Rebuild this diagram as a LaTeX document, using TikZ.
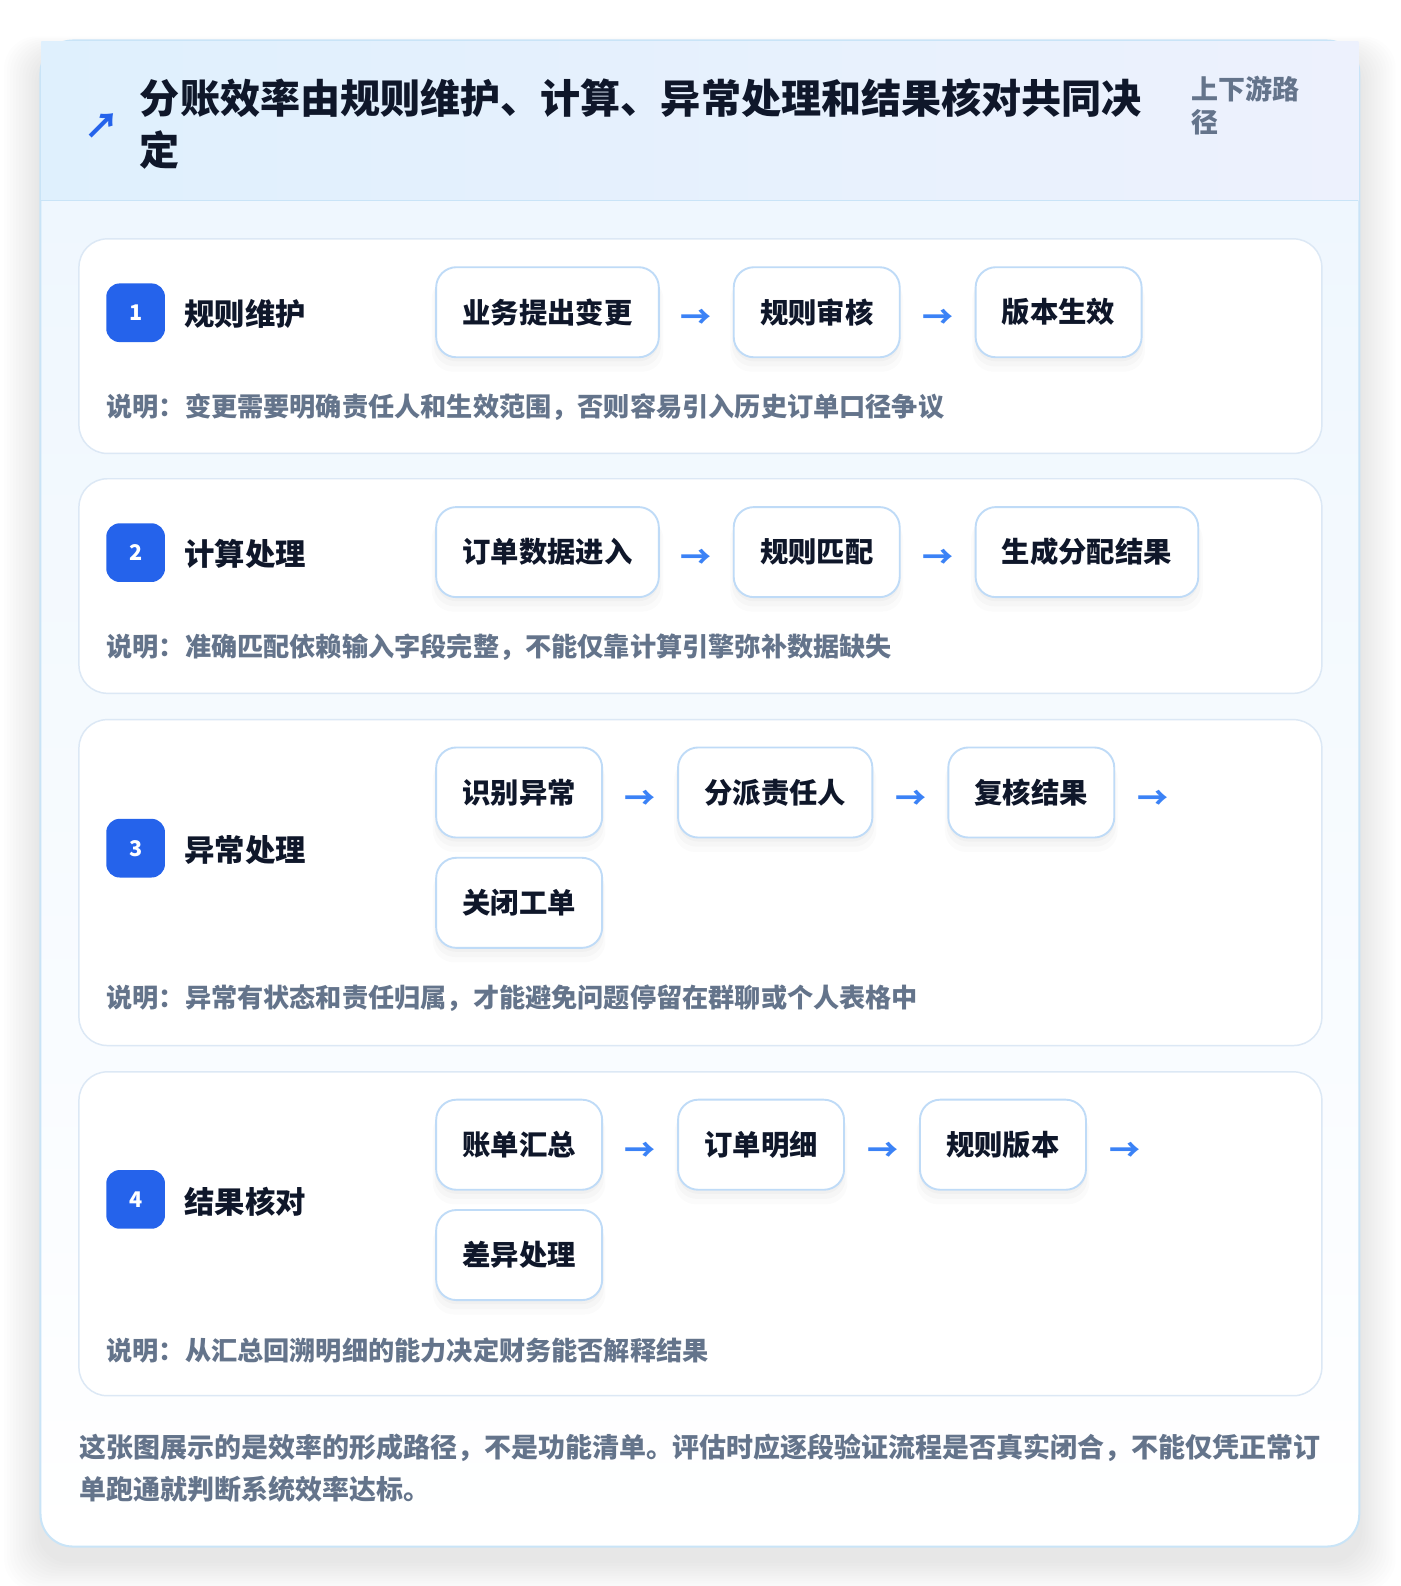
\documentclass[tikz,border=0pt]{standalone}
\usepackage{fontspec}
\setmainfont{Noto Sans CJK SC}
\usepackage{xcolor}
\usetikzlibrary{shadows}

\definecolor{ink}{HTML}{0F172A}
\definecolor{notegray}{HTML}{64748B}
\definecolor{badgeblue}{HTML}{2563EB}
\definecolor{arrowblue}{HTML}{3B82F6}
\definecolor{stepline}{HTML}{BFDBF7}
\definecolor{cardline}{HTML}{DCE8F5}
\definecolor{outerline}{HTML}{C9E4F7}
\definecolor{headA}{HTML}{DFF0FD}
\definecolor{headB}{HTML}{EDF1FD}
\definecolor{bodytop}{HTML}{EFF7FE}

\begin{document}
\begin{tikzpicture}[x=0.75pt,y=-0.75pt,
    stepbox/.style={draw=stepline, line width=1.4pt, fill=white, rounded corners=15pt,
        minimum height=66.75pt, inner xsep=19.5pt, anchor=west, text=ink,
        font=\fontsize{21}{25}\selectfont\bfseries,
        drop shadow={shadow xshift=0pt, shadow yshift=-9pt, shadow scale=1.04, opacity=0.015, fill=black},
        drop shadow={shadow xshift=0pt, shadow yshift=-6pt, shadow scale=1.02, opacity=0.02, fill=black},
        drop shadow={shadow xshift=0pt, shadow yshift=-3pt, opacity=0.025, fill=black}},
    card/.style={draw=cardline, line width=1.1pt, fill=white, rounded corners=21pt},
    badge/.style={fill=badgeblue, rounded corners=10pt, minimum size=43.5pt, inner sep=0pt,
        text=white, font=\fontsize{16}{16}\selectfont\bfseries},
    stage/.style={anchor=west, inner sep=0pt, text=ink, font=\fontsize{22.5}{27}\selectfont\bfseries},
    note/.style={anchor=west, inner sep=0pt, text=notegray, font=\fontsize{19.4}{24}\selectfont\bfseries},
    flow/.style={inner sep=0pt, text=arrowblue, font=\fontsize{23}{25}\selectfont\bfseries}
]
    \fill[white] (0,0) rectangle (1383.4,1567);

    % soft shadow of the outer panel
    \foreach \i in {1,...,12}
        \fill[black, opacity=0.009, rounded corners=24pt]
            (40-3*\i,40-1.5*\i+14) rectangle (1343+3*\i,1528+2.5*\i+14);

    % outer panel: body, border, header
    \begin{scope}
        \clip[rounded corners=24pt] (40,40) rectangle (1343,1528);
        \shade[top color=bodytop, bottom color=white] (40,198) rectangle (1343,1528);
    \end{scope}
    \draw[outerline, line width=1.5pt, rounded corners=24pt] (40,40) rectangle (1343,1528);
    \shade[left color=headA, right color=headB] (40.8,41) rectangle (1342.2,198);
    \draw[outerline, line width=1.2pt] (40.8,198) -- (1342.2,198);

    \node[text=badgeblue, inner sep=0pt, font=\fontsize{26}{26}\selectfont\bfseries] (icon) at (100.5,125) {↗};
    \node[anchor=west, align=left, inner sep=0pt, text=ink, font=\fontsize{29.7}{38.25}\selectfont\bfseries]
        (title) at (138,122.5) {分账效率由规则维护、计算、异常处理和结果核对共同决\\定};
    \node[anchor=west, align=left, inner sep=0pt, text=notegray, font=\fontsize{20}{24.75}\selectfont\bfseries]
        (tag) at (1177,104.5) {上下游路\\径};

    % stage 1
    \draw[card] (78,236) rectangle (1306,448);
    \node[badge] (b1) at (134,309) {1};
    \node[stage] (s1) at (182,310) {规则维护};
    \node[stepbox] (r1a) at (430,308.5) {业务提出变更};
    \node[flow] (f1a) at (688,315) {→};
    \node[stepbox] (r1b) at (724,308.5) {规则审核};
    \node[flow] (f1b) at (927,315) {→};
    \node[stepbox] (r1c) at (963,308.5) {版本生效};
    \node[note] (n1) at (105,402) {说明：变更需要明确责任人和生效范围，否则容易引入历史订单口径争议};

    % stage 2
    \draw[card] (78,473) rectangle (1306,685);
    \node[badge] (b2) at (134,546) {2};
    \node[stage] (s2) at (182,547) {计算处理};
    \node[stepbox] (r2a) at (430,545.5) {订单数据进入};
    \node[flow] (f2a) at (688,552) {→};
    \node[stepbox] (r2b) at (724,545.5) {规则匹配};
    \node[flow] (f2b) at (927,552) {→};
    \node[stepbox] (r2c) at (963,545.5) {生成分配结果};
    \node[note] (n2) at (105,639) {说明：准确匹配依赖输入字段完整，不能仅靠计算引擎弥补数据缺失};

    % stage 3
    \draw[card] (78,711) rectangle (1306,1033);
    \node[badge] (b3) at (134,838) {3};
    \node[stage] (s3) at (182,840) {异常处理};
    \node[stepbox] (r3a) at (430,783) {识别异常};
    \node[flow] (f3a) at (632.5,790) {→};
    \node[stepbox] (r3b) at (669,783) {分派责任人};
    \node[flow] (f3b) at (900.5,790) {→};
    \node[stepbox] (r3c) at (936,783) {复核结果};
    \node[flow] (f3c) at (1139.5,790) {→};
    \node[stepbox] (r3d) at (430,892) {关闭工单};
    \node[note] (n3) at (105,986) {说明：异常有状态和责任归属，才能避免问题停留在群聊或个人表格中};

    % stage 4
    \draw[card] (78,1059) rectangle (1306,1379);
    \node[badge] (b4) at (134,1185) {4};
    \node[stage] (s4) at (182,1187) {结果核对};
    \node[stepbox] (r4a) at (430,1131) {账单汇总};
    \node[flow] (f4a) at (632.5,1138) {→};
    \node[stepbox] (r4b) at (669,1131) {订单明细};
    \node[flow] (f4b) at (872.5,1138) {→};
    \node[stepbox] (r4c) at (908,1131) {规则版本};
    \node[flow] (f4c) at (1111.5,1138) {→};
    \node[stepbox] (r4d) at (430,1240) {差异处理};
    \node[note] (n4) at (105,1334) {说明：从汇总回溯明细的能力决定财务能否解释结果};

    \node[anchor=west, align=left, inner sep=0pt, text=notegray, font=\fontsize{20}{30.75}\selectfont\bfseries]
        (summary) at (78,1450.5) {这张图展示的是效率的形成路径，不是功能清单。评估时应逐段验证流程是否真实闭合，不能仅凭正常订\\单跑通就判断系统效率达标。};

    \pgfresetboundingbox
    \useasboundingbox (0,0) rectangle (1383.4,1567);
\end{tikzpicture}
\end{document}
